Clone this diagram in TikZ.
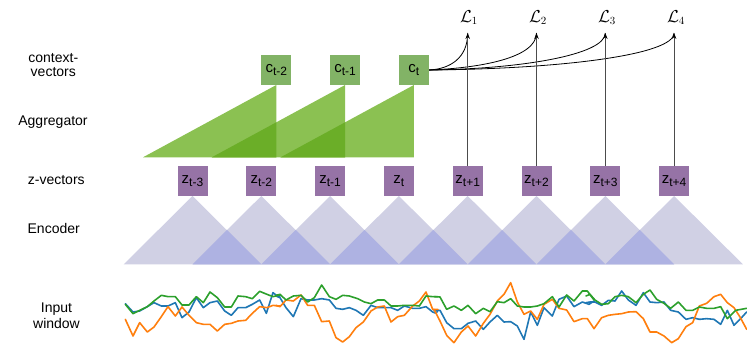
\documentclass[tikz,border=0pt]{standalone}
\usepackage{fontspec}
\setmainfont{Liberation Sans}
\usetikzlibrary{arrows.meta}
\definecolor{zpurple}{HTML}{9673A6}
\definecolor{cgreen}{HTML}{82B366}
\definecolor{agglight}{HTML}{8BC152}
\definecolor{aggdark}{HTML}{6BAE28}
\definecolor{enclight}{HTML}{D0D0E4}
\definecolor{encdark}{HTML}{AEB2E2}
\definecolor{sblue}{HTML}{1F77B4}
\definecolor{sorange}{HTML}{FF7F0E}
\definecolor{sgreen}{HTML}{2CA02C}
\newcommand\mysub[2]{#1\raisebox{-3.5pt}{\fontsize{12}{12}\selectfont #2}}
\begin{document}
\begin{tikzpicture}[x=1pt,y=-1pt,
  lab/.style={font=\fontsize{14}{14}\selectfont, align=center, inner sep=0pt},
  vecbox/.style={minimum width=30pt, minimum height=30pt, inner sep=0pt, font=\fontsize{15}{15}\selectfont},
  zbox/.style={vecbox, fill=zpurple},
  cbox/.style={vecbox, fill=cgreen},
  losslab/.style={font=\fontsize{16}{16}\selectfont, inner sep=0pt, anchor=south},
  lossline/.style={draw=black!70, line width=0.8pt, -{Stealth[length=6pt,width=4.5pt,color=black]}},
  fanline/.style={draw=black, line width=0.8pt},
  ser/.style={line width=1.6pt, line join=round, line cap=round},
  cropA/.style={shift={(118,276)}, scale=1/3},
  cropB/.style={shift={(276,276)}, scale=1/3},
  cropC/.style={shift={(434,276)}, scale=1/3},
  cropD/.style={shift={(590,276)}, scale=1/3}]
\useasboundingbox (0,0) rectangle (747,347);

% ---------- encoder triangles ----------
\foreach \i in {0,...,7}{
  \fill[enclight] ({192.5+68.8*\i-68.8},264.3) -- ({192.5+68.8*\i},196) -- ({192.5+68.8*\i+68.8},264.3) -- cycle;
}
\foreach \i in {0,...,6}{
  \fill[encdark] ({192.5+68.8*\i},264.3) -- ({192.5+68.8*\i+34.4},229.9) -- ({192.5+68.8*\i+68.8},264.3) -- cycle;
}

% ---------- aggregator triangles ----------
\foreach \r in {276.3,345.1,413.9}{
  \fill[agglight] ({\r-133.3},157.3) -- (\r,157.3) -- (\r,85) -- cycle;
}
\foreach \r in {276.3,345.1}{
  \fill[aggdark] ({\r-64.5},157.3) -- (\r,157.3) -- (\r,122.3) -- cycle;
}

% ---------- z boxes ----------
\node[zbox] (z1) at (192.5,181) {\mysub{z}{t-3}};
\node[zbox] (z2) at (261.3,181) {\mysub{z}{t-2}};
\node[zbox] (z3) at (330.1,181) {\mysub{z}{t-1}};
\node[zbox] (z4) at (398.9,181) {\mysub{z}{t}};
\node[zbox] (z5) at (467.7,181) {\mysub{z}{t+1}};
\node[zbox] (z6) at (536.5,181) {\mysub{z}{t+2}};
\node[zbox] (z7) at (605.3,181) {\mysub{z}{t+3}};
\node[zbox] (z8) at (674.1,181) {\mysub{z}{t+4}};

% ---------- c boxes ----------
\node[cbox] (c1) at (276.3,70) {\mysub{c}{t-2}};
\node[cbox] (c2) at (345.1,70) {\mysub{c}{t-1}};
\node[cbox] (c3) at (413.9,70) {\mysub{c}{t}};

% ---------- loss tips and labels ----------
\coordinate (t1) at (467.7,33);
\coordinate (t2) at (536.5,33);
\coordinate (t3) at (605.3,33);
\coordinate (t4) at (674.1,33);
\node[losslab] (L1) at (469,25) {$\mathcal{L}_1$};
\node[losslab] (L2) at (538,25) {$\mathcal{L}_2$};
\node[losslab] (L3) at (607,25) {$\mathcal{L}_3$};
\node[losslab] (L4) at (676,25) {$\mathcal{L}_4$};

\draw[fanline] (c3.east) .. controls (450,69) and (467.7,58) .. (t1);
\draw[fanline] (c3.east) .. controls (480,68) and (536.5,58) .. (t2);
\draw[fanline] (c3.east) .. controls (520,69) and (605.3,55) .. (t3);
\draw[fanline] (c3.east) .. controls (560,69) and (674.1,55) .. (t4);

\draw[lossline] (z5.north) -- (t1);
\draw[lossline] (z6.north) -- (t2);
\draw[lossline] (z7.north) -- (t3);
\draw[lossline] (z8.north) -- (t4);

% ---------- row labels ----------
\node[lab] (lctx) at (53.3,65) {context-\\vectors};
\node[lab, anchor=base] (lagg) at (53,126) {Aggregator};
\node[lab, anchor=base] (lz) at (56.3,185) {z-vectors};
\node[lab, anchor=base] (lenc) at (53.7,234) {Encoder};
\node[lab] (lin) at (56.5,316) {Input\\[2.5pt]window};

% ---------- input window: blue ----------
\draw[ser,sblue,cropA] plot coordinates {(22,83) (45,108) (65,105) (88,92) (108,80) (130,90) (150,90) (172,80) (192,125) (213,108) (235,65) (256,95) (276,80) (298,75) (320,105) (340,118) (360,95) (383,95) (403,85) (425,72) (445,112) (465,50) (480,62) (486,60)};
\draw[ser,sblue,cropB] plot coordinates {(0,60) (12,65) (30,95) (52,122) (75,68) (95,72) (115,72) (137,68) (160,72) (180,97) (200,100) (220,95) (240,103) (262,118) (285,88) (305,95) (325,95) (345,95) (365,103) (385,90) (410,97) (430,97) (450,92) (470,108) (480,112) (486,103)};
\draw[ser,sblue,cropC] plot coordinates {(0,103) (18,103) (38,140) (60,158) (82,158) (102,142) (125,135) (148,160) (168,138) (190,118) (210,138) (230,137) (250,150) (270,190) (290,108) (310,148) (330,95) (355,120) (375,70) (398,60) (420,92) (445,78) (465,85) (480,75)};
\draw[ser,sblue,cropD] plot coordinates {(-12,80) (0,78) (15,78) (35,88) (55,73) (75,75) (95,45) (115,72) (138,88) (160,50) (180,78) (200,80) (222,78) (242,103) (265,108) (288,130) (308,125) (328,130) (350,128) (372,130) (392,145) (412,103) (432,148) (450,130) (470,108)};

% ---------- input window: orange ----------
\draw[ser,sorange,cropA] plot coordinates {(22,130) (45,180) (65,140) (88,168) (108,153) (130,122) (150,92) (172,120) (192,93) (213,118) (235,140) (256,145) (276,145) (298,165) (320,145) (340,142) (360,135) (383,133) (403,112) (425,92) (447,95) (465,88) (480,90) (486,90)};
\draw[ser,sorange,cropB] plot coordinates {(0,88) (12,92) (30,72) (52,75) (75,57) (95,88) (115,88) (137,137) (160,135) (180,185) (200,198) (220,182) (240,155) (262,138) (285,105) (305,93) (325,90) (345,138) (365,122) (385,118) (410,90) (430,75) (450,48) (470,100) (486,100)};
\draw[ser,sorange,cropC] plot coordinates {(0,100) (18,135) (38,178) (60,200) (82,168) (102,150) (125,180) (148,142) (168,115) (190,75) (210,55) (230,20) (250,78) (270,115) (290,105) (310,130) (330,85) (355,70) (375,97) (398,102) (420,137) (445,128) (460,128) (480,158)};
\draw[ser,sorange,cropD] plot coordinates {(12,158) (35,125) (55,118) (75,115) (95,113) (115,108) (138,107) (160,128) (180,168) (200,168) (222,180) (245,200) (265,188) (288,152) (308,140) (328,90) (350,82) (372,62) (392,55) (412,80) (432,95) (450,123) (470,160)};

% ---------- input window: green ----------
\draw[ser,sgreen,cropA] plot coordinates {(22,85) (45,113) (65,103) (88,92) (108,75) (130,58) (150,62) (172,62) (192,87) (213,87) (235,62) (256,80) (276,48) (298,65) (320,93) (340,93) (360,60) (383,62) (403,68) (425,46) (447,55) (465,62) (480,58) (486,57)};
\draw[ser,sgreen,cropB] plot coordinates {(0,58) (12,55) (30,72) (52,60) (75,58) (95,78) (115,65) (137,27) (160,62) (180,70) (200,58) (220,60) (245,68) (265,78) (285,83) (305,72) (325,72) (345,90) (365,90) (385,88) (410,88) (430,90) (450,60) (470,62) (486,62)};
\draw[ser,sgreen,cropC] plot coordinates {(0,62) (18,63) (38,100) (60,90) (82,103) (102,88) (125,113) (148,97) (168,107) (190,77) (210,80) (230,68) (250,90) (270,93) (290,93) (310,90) (330,83) (355,62) (375,93) (398,57) (420,75) (445,45) (460,45) (480,72)};
\draw[ser,sgreen,cropD] plot coordinates {(-12,60) (0,55) (15,72) (35,85) (55,83) (75,62) (95,58) (115,62) (138,80) (160,55) (180,42) (200,70) (222,82) (242,97) (265,78) (288,103) (308,103) (328,93) (350,97) (372,97) (392,92) (412,128) (437,103) (470,97)};
\end{tikzpicture}
\end{document}
